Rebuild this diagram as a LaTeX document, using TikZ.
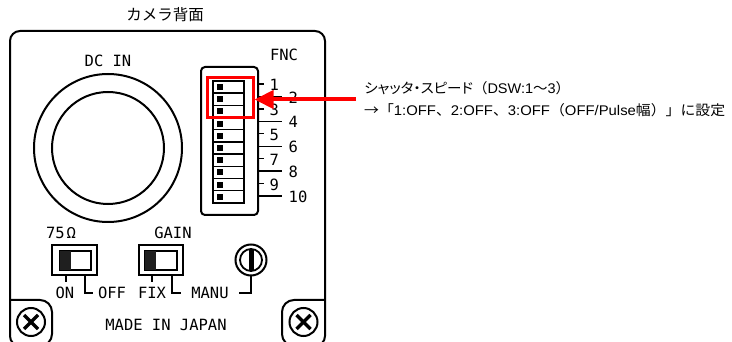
\documentclass[tikz,border=0pt]{standalone}
\usepackage{fontspec}
\usepackage{graphicx}
\newfontfamily\jp{Noto Sans CJK JP}
\newfontfamily\jpp[RawFeature={+palt}]{Noto Sans CJK JP}
\newfontfamily\latf{Liberation Sans}
\newfontfamily\lbl{DejaVu Sans Mono}
\newcommand\latx[1]{{\latf #1}}
\usetikzlibrary{arrows.meta}
\definecolor{selred}{HTML}{FF0000}
\tikzset{
  body/.style={line width=2pt},
  thinline/.style={line width=1.4pt},
  lbltext/.style={font=\lbl\fontsize{15.5}{18}\selectfont, inner sep=0pt},
  numlbl/.style={font=\lbl\fontsize{15.5}{18}\selectfont, inner sep=0pt, anchor=west},
  swouter/.style={line width=2.6pt},
  swinner/.style={line width=1.4pt},
  slider/.style={fill=black!88},
  selbox/.style={draw=selred, line width=3pt, minimum width=46pt, minimum height=40pt, inner sep=0pt},
  redarrow/.style={draw=selred, line width=4pt, -{Triangle[length=19pt,width=18pt]}},
  notetext/.style={anchor=west, inner sep=0pt, font=\jp\fontsize{14}{17}\selectfont},
  screw/.style={line width=2pt},
  screwx/.style={line width=3.2pt},
}
\begin{document}
\begin{tikzpicture}[x=1pt,y=-1pt]
\path[use as bounding box] (0,0) rectangle (732,342);
\clip (0,0) rectangle (732,342);

% title
\node[font=\jp\fontsize{15.5}{18}\selectfont, inner sep=0pt] (title) at (165,15) {カメラ背面};

% body
\draw[body, rounded corners=10pt] (10,31) rectangle (325,346);

% DC IN connector
\node[lbltext] (dcin) at (108,61) {DC IN};
\draw[body] (108,148) circle[radius=74pt];
\draw[body] (108,148) circle[radius=56pt];

% DIP switch
\node[lbltext] (fnc) at (284,55) {FNC};
\draw[body, rounded corners=4pt] (201,67) rectangle (258,215);
\draw[thinline] (213,81) rectangle (244,203);
\foreach \k in {1,...,9} {
  \pgfmathsetmacro\yy{81+12.2*\k}
  \draw[thinline] (213,\yy) -- (244,\yy);
}
\foreach \k in {1,...,10} {
  \pgfmathsetmacro\yy{81+12.2*(\k-0.5)}
  \fill (216.5,\yy-3) rectangle (222.5,\yy+3);
}
\foreach \i in {1,3,5,7,9} {
  \pgfmathsetmacro\yy{84+12.45*(\i-1)}
  \coordinate (t\i) at (258,\yy);
  \draw[thinline] (t\i) -- ++(6,0);
  \node[numlbl] (n\i) at (269.5,\yy+1) {\i};
}
\foreach \i in {2,4,6,8,10} {
  \pgfmathsetmacro\yy{84+12.45*(\i-1)}
  \coordinate (t\i) at (258,\yy);
  \draw[thinline] (t\i) -- ++(24,0);
  \node[numlbl] (n\i) at (288.5,\yy+1) {\i};
}

% selection and arrow
\node[selbox] (sel) at (230,98) {};
\coordinate (arrstart) at (356,99.5);
\draw[redarrow] (arrstart) -- (sel.east |- arrstart);

% note
\node[notetext] (note1) at (364,88)
  {\resizebox{206pt}{\height}{{\jpp シャッタ・スピード}（\latx{DSW:1}〜\latx{3}）}};
\node[notetext] (note2) at (364,110)
  {\resizebox{361pt}{\height}{→「\latx{1:OFF}、\latx{2:OFF}、\latx{3:OFF}（\latx{OFF/Pulse}幅）」に設定}};

% 75 ohm switch
\node[lbltext] (ohm) at (61,233) {75\kern2ptΩ};
\draw[swouter] (52,245) rectangle (97,275);
\draw[swinner] (60,251) rectangle (91,270);
\fill[slider] (60,251) rectangle (70.5,270);
\coordinate (on) at (66,275);
\coordinate (off) at (85,275);
\node[lbltext] (onl) at (65,293) {ON};
\node[lbltext] (offl) at (112,293) {OFF};
\draw[thinline] (on) -- ++(0,7);
\draw[thinline] (off) |- (onl.east -| 92.5,0);

% gain switch
\node[lbltext] (gain) at (173,233) {GAIN};
\draw[swouter] (139,245) rectangle (183,275);
\draw[swinner] (145,251) rectangle (177,270);
\fill[slider] (145,251) rectangle (156,270);
\coordinate (fix) at (152,275);
\coordinate (manu) at (172,275);
\node[lbltext] (fixl) at (152,293) {FIX};
\node[lbltext] (manul) at (210,293) {MANU};
\draw[thinline] (fix) -- ++(0,7);
\draw[thinline] (manu) |- (fixl.east -| 180.5,0);

% potentiometer
\node[circle, draw, line width=2pt, minimum size=31pt, inner sep=0pt] (pot) at (251,260) {};
\draw[line width=1.8pt] (pot.center) circle[radius=11pt];
\begin{scope}
  \clip (pot.center) circle[radius=11pt];
  \fill (248.5,240) rectangle (253.5,280);
\end{scope}
\coordinate (potend) at (239,293);
\draw[thinline] (pot.south) |- (potend);

% bottom corners with screws
\draw[body, rounded corners=12pt] (10,300) -- (52,300) -- (52,346) -- (10,346);
\draw[body, rounded corners=12pt] (325,300) -- (282,300) -- (282,346) -- (325,346);
\node[lbltext] (made) at (166,325) {MADE IN JAPAN};
\foreach \cx/\nm in {31/sl, 303.5/sr} {
  \coordinate (\nm) at (\cx,322);
  \draw[screw] (\nm) circle[radius=14pt];
  \draw[screwx] (\nm) +(-7,-7) -- +(7,7);
  \draw[screwx] (\nm) +(-7,7) -- +(7,-7);
}
\end{tikzpicture}
\end{document}
